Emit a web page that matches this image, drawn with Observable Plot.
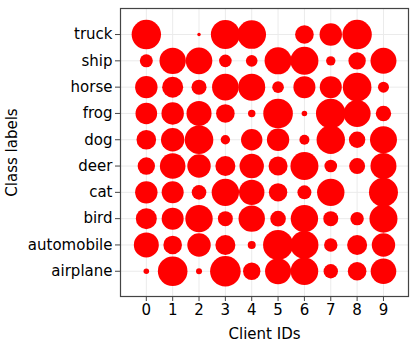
<!DOCTYPE html>
<html>
<head>
<meta charset="utf-8">
<script src="https://cdn.jsdelivr.net/npm/d3@7"></script>
<script src="https://cdn.jsdelivr.net/npm/@observablehq/plot@0.6"></script>
<style>
  html, body { margin: 0; padding: 0; background: #fff; }
  #chart svg { display: block; }
</style>
</head>
<body>
<div id="chart"></div>
<script>
// Class labels, bottom (index 0) to top
const classes = ["airplane", "automobile", "bird", "cat", "deer", "dog", "frog", "horse", "ship", "truck"];
const clients = [0, 1, 2, 3, 4, 5, 6, 7, 8, 9];

// Estimated sample counts per client (marker area ∝ count)
const airplane   = [31, 876, 36, 936, 303, 676, 762, 207, 346, 655];
const automobile = [625, 346, 548, 400, 64, 900, 784, 180, 400, 548];
const bird       = [441, 484, 751, 225, 697, 243, 751, 225, 180, 784];
const cat        = [502, 484, 213, 751, 645, 339, 196, 751, 0, 841];
const deer       = [303, 655, 548, 400, 595, 361, 784, 159, 256, 676];
const dog        = [384, 548, 818, 88, 458, 502, 100, 807, 269, 729];
const frog       = [467, 502, 625, 346, 55, 876, 31, 876, 729, 237];
const horse      = [502, 441, 225, 708, 729, 135, 484, 484, 818, 121];
const ship       = [169, 697, 708, 159, 135, 729, 784, 88, 303, 676];
const truck      = [864, 0, 12, 841, 818, 0, 346, 502, 864, 0];

const rows = [airplane, automobile, bird, cat, deer, dog, frog, horse, ship, truck];
const data = [];
rows.forEach((vals, ci) => vals.forEach((v, k) => data.push({client: clients[k], cls: ci, count: v})));

const font = "DejaVu Sans, sans-serif";
const chart = Plot.plot({
  width: 417,
  height: 346,
  marginLeft: 120,
  marginRight: 9,
  marginTop: 8,
  marginBottom: 50,
  style: {fontFamily: font, fontSize: "15px", color: "#000", background: "#fff"},
  x: {domain: [-0.98, 9.95]},
  y: {domain: [-0.96, 9.99]},
  r: {type: "sqrt", domain: [0, 1000], range: [0, 15.81]},
  marks: [
    Plot.gridX(clients, {stroke: "#ebebeb", strokeOpacity: 1, strokeWidth: 1}),
    Plot.gridY(d3.range(classes.length), {stroke: "#ebebeb", strokeOpacity: 1, strokeWidth: 1}),
    Plot.dot(data, {x: "client", y: "cls", r: "count", fill: "#ff0000", stroke: "none"}),
    Plot.frame({stroke: "#444", strokeWidth: 1.2}),
    Plot.axisX({
      ticks: clients, tickSize: 5, tickPadding: 3, stroke: "#444",
      fontSize: 15, fill: "#000",
      label: "Client IDs", labelAnchor: "center", labelArrow: "none", labelOffset: 42
    }),
    Plot.axisY({
      ticks: d3.range(classes.length), tickFormat: i => classes[i],
      tickSize: 5, tickPadding: 3, stroke: "#444",
      fontSize: 15, fill: "#000",
      label: "Class labels", labelAnchor: "center", labelArrow: "none", labelOffset: 114
    })
  ]
});
document.getElementById("chart").appendChild(chart);
</script>
</body>
</html>
